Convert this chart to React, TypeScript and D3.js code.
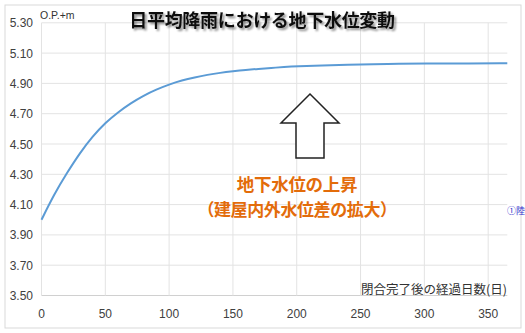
import React from "react";
import * as d3 from "d3";

const days = [0, 10, 20, 30, 40, 50, 60, 70, 80, 90, 100, 110, 120, 130, 140, 150, 160, 170, 180, 190, 200, 220, 240, 260, 280, 300, 330, 365];
const levels = [4.0, 4.17, 4.31, 4.44, 4.55, 4.64, 4.71, 4.77, 4.82, 4.86, 4.893, 4.92, 4.94, 4.957, 4.97, 4.98, 4.989, 4.996, 5.002, 5.008, 5.013, 5.019, 5.024, 5.027, 5.029, 5.031, 5.032, 5.033];
const xTicks = [0, 50, 100, 150, 200, 250, 300, 350];
const yTicks = [3.5, 3.7, 3.9, 4.1, 4.3, 4.5, 4.7, 4.9, 5.1, 5.3];
const title = "日平均降雨における地下水位変動";
const yUnit = "O.P.+m";
const xTitle = "閉合完了後の経過日数(日)";
const note1 = "地下水位の上昇";
const note2 = "（建屋内外水位差の拡大）";
const sideNote = "①陸";

export default function App() {
  const W = 525, H = 333;
  const x = d3.scaleLinear().domain([0, 365]).range([41.5, 507.3]);
  const y = d3.scaleLinear().domain([3.5, 5.3]).range([295.5, 22.8]);
  const line = d3.line<number>().x((d, i) => x(days[i])).y((d) => y(d)).curve(d3.curveBasis);
  const tickFont = "'Liberation Sans Narrow', 'Liberation Sans', sans-serif";
  const cjk = "'Noto Sans CJK JP', sans-serif";
  const ax = 310, aTop = 94, aHeadY = 123, aHalf = 29, sHalf = 14, aBot = 158;
  const arrowPts = [
    [ax, aTop], [ax + aHalf, aHeadY], [ax + sHalf, aHeadY], [ax + sHalf, aBot],
    [ax - sHalf, aBot], [ax - sHalf, aHeadY], [ax - aHalf, aHeadY],
  ].map((p) => p.join(",")).join(" ");
  return (
    <svg width={W} height={H} style={{ position: "absolute", left: 0, top: 0, background: "#fff" }}>
      <defs>
        <filter id="sh" x="-10%" y="-30%" width="120%" height="160%">
          <feGaussianBlur in="SourceAlpha" stdDeviation="1.2" />
          <feOffset dx="1.5" dy="1.5" result="b" />
          <feComponentTransfer><feFuncA type="linear" slope="0.45" /></feComponentTransfer>
          <feMerge><feMergeNode /><feMergeNode in="SourceGraphic" /></feMerge>
        </filter>
      </defs>
      <rect x={5} y={5} width={516} height={323} fill="#fff" stroke="#d9d9d9" strokeWidth={1} />
      {yTicks.map((t) => (
        <line key={"gy" + t} x1={x(0)} x2={x(365)} y1={y(t)} y2={y(t)} stroke={t === 3.5 ? "#d0d0d0" : "#e3e3e3"} strokeWidth={1} />
      ))}
      {xTicks.map((t) => (
        <line key={"gx" + t} x1={x(t)} x2={x(t)} y1={y(5.3)} y2={y(3.5)} stroke="#e3e3e3" strokeWidth={1} />
      ))}
      {yTicks.map((t) => (
        <text key={"ly" + t} x={33} y={y(t) + 4.5} textAnchor="end" fontSize={12} fontFamily={tickFont} fill="#404040">
          {t.toFixed(2)}
        </text>
      ))}
      {xTicks.map((t) => (
        <text key={"lx" + t} x={x(t)} y={318} textAnchor="middle" fontSize={12} fontFamily={tickFont} fill="#404040">
          {t}
        </text>
      ))}
      <text x={40} y={19} fontSize={10.5} fontFamily={tickFont} fill="#333">{yUnit}</text>
      <path d={line(levels) || ""} fill="none" stroke="#5b9bd5" strokeWidth={2} />
      <text x={262} y={27} textAnchor="middle" fontSize={18} fontWeight="bold" fontFamily={cjk} fill="#111" filter="url(#sh)" letterSpacing={-0.3}>
        {title}
      </text>
      <polygon points={arrowPts} fill="#fff" stroke="#222" strokeWidth={1.5} />
      <text x={297} y={191} textAnchor="middle" fontSize={17.5} fontWeight="bold" fontFamily={cjk} fill="#e36c0a" letterSpacing={-0.3}>
        {note1}
      </text>
      <text x={297} y={216} textAnchor="middle" fontSize={17} fontWeight="bold" fontFamily={cjk} fill="#e36c0a" letterSpacing={-0.4}>
        {note2}
      </text>
      <text x={507} y={214} fontSize={9} fontFamily={cjk} fill="#3333cc">{sideNote}</text>
      <text x={507} y={294} textAnchor="end" fontSize={12.5} fontFamily={cjk} fill="#333">{xTitle}</text>
    </svg>
  );
}
